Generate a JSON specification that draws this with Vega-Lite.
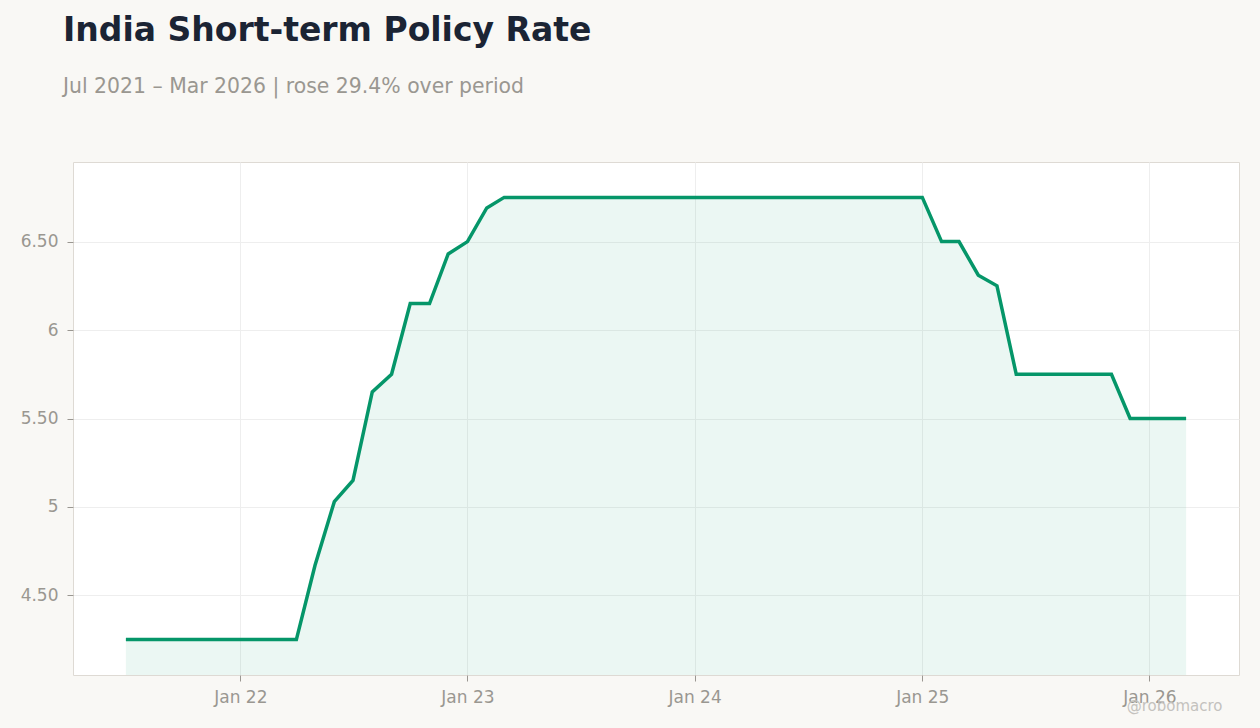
{
  "$schema": "https://vega.github.io/schema/vega-lite/v6.json",
  "width": 1166,
  "height": 513,
  "autosize": {"type": "none"},
  "padding": {"left": 73, "top": 162, "right": 21, "bottom": 53},
  "background": "#f9f8f5",
  "config": {
    "font": "DejaVu Sans",
    "view": {"fill": "#ffffff", "stroke": "#dedad4", "strokeWidth": 1}
  },
  "title": {
    "text": "India Short-term Policy Rate",
    "subtitle": "Jul 2021 – Mar 2026 | rose 29.4% over period",
    "anchor": "start",
    "frame": "group",
    "dx": -10,
    "offset": 65,
    "font": "DejaVu Sans",
    "fontSize": 33,
    "fontWeight": "bold",
    "color": "#1b2434",
    "subtitleFont": "DejaVu Sans",
    "subtitleFontSize": 20.4,
    "subtitleColor": "#9a9791",
    "subtitlePadding": 29
  },
  "data": {
    "values": [
      {"date": "2021-07-01", "rate": 4.25},
      {"date": "2021-08-01", "rate": 4.25},
      {"date": "2021-09-01", "rate": 4.25},
      {"date": "2021-10-01", "rate": 4.25},
      {"date": "2021-11-01", "rate": 4.25},
      {"date": "2021-12-01", "rate": 4.25},
      {"date": "2022-01-01", "rate": 4.25},
      {"date": "2022-02-01", "rate": 4.25},
      {"date": "2022-03-01", "rate": 4.25},
      {"date": "2022-04-01", "rate": 4.25},
      {"date": "2022-05-01", "rate": 4.67},
      {"date": "2022-06-01", "rate": 5.03},
      {"date": "2022-07-01", "rate": 5.15},
      {"date": "2022-08-01", "rate": 5.65},
      {"date": "2022-09-01", "rate": 5.75},
      {"date": "2022-10-01", "rate": 6.15},
      {"date": "2022-11-01", "rate": 6.15},
      {"date": "2022-12-01", "rate": 6.43},
      {"date": "2023-01-01", "rate": 6.5},
      {"date": "2023-02-01", "rate": 6.69},
      {"date": "2023-03-01", "rate": 6.75},
      {"date": "2023-04-01", "rate": 6.75},
      {"date": "2023-05-01", "rate": 6.75},
      {"date": "2023-06-01", "rate": 6.75},
      {"date": "2023-07-01", "rate": 6.75},
      {"date": "2023-08-01", "rate": 6.75},
      {"date": "2023-09-01", "rate": 6.75},
      {"date": "2023-10-01", "rate": 6.75},
      {"date": "2023-11-01", "rate": 6.75},
      {"date": "2023-12-01", "rate": 6.75},
      {"date": "2024-01-01", "rate": 6.75},
      {"date": "2024-02-01", "rate": 6.75},
      {"date": "2024-03-01", "rate": 6.75},
      {"date": "2024-04-01", "rate": 6.75},
      {"date": "2024-05-01", "rate": 6.75},
      {"date": "2024-06-01", "rate": 6.75},
      {"date": "2024-07-01", "rate": 6.75},
      {"date": "2024-08-01", "rate": 6.75},
      {"date": "2024-09-01", "rate": 6.75},
      {"date": "2024-10-01", "rate": 6.75},
      {"date": "2024-11-01", "rate": 6.75},
      {"date": "2024-12-01", "rate": 6.75},
      {"date": "2025-01-01", "rate": 6.75},
      {"date": "2025-02-01", "rate": 6.5},
      {"date": "2025-03-01", "rate": 6.5},
      {"date": "2025-04-01", "rate": 6.31},
      {"date": "2025-05-01", "rate": 6.25},
      {"date": "2025-06-01", "rate": 5.75},
      {"date": "2025-07-01", "rate": 5.75},
      {"date": "2025-08-01", "rate": 5.75},
      {"date": "2025-09-01", "rate": 5.75},
      {"date": "2025-10-01", "rate": 5.75},
      {"date": "2025-11-01", "rate": 5.75},
      {"date": "2025-12-01", "rate": 5.5},
      {"date": "2026-01-01", "rate": 5.5},
      {"date": "2026-02-01", "rate": 5.5},
      {"date": "2026-03-01", "rate": 5.5}
    ]
  },
  "encoding": {
    "x": {
      "field": "date",
      "type": "temporal",
      "scale": {
        "domain": [
          {"year": 2021, "month": 4, "date": 7},
          {"year": 2026, "month": 5, "date": 25}
        ],
        "nice": false
      },
      "axis": {
        "format": "%b %y",
        "tickCount": {"interval": "year", "step": 1},
        "labelFontSize": 17,
        "labelColor": "#9a9791",
        "labelPadding": 8,
        "tickColor": "#9a9791",
        "tickSize": 6,
        "domain": false,
        "gridColor": "#eeeeee",
        "title": "@robomacro",
        "titleFontSize": 15,
        "titleFontWeight": "normal",
        "titleColor": "#c4c2be",
        "titleAnchor": "end",
        "titleAlign": "right",
        "titleBaseline": "middle",
        "titleX": 1149,
        "titleY": 30
      }
    },
    "y": {
      "field": "rate",
      "type": "quantitative",
      "scale": {"domain": [4.05, 6.95], "nice": false, "zero": false},
      "axis": {
        "values": [4.5, 5, 5.5, 6, 6.5],
        "labelExpr": "datum.value % 1 === 0 ? format(datum.value, 'd') : format(datum.value, '.2f')",
        "labelFontSize": 17,
        "labelColor": "#9a9791",
        "labelPadding": 9,
        "tickColor": "#9a9791",
        "tickSize": 6,
        "domain": false,
        "gridColor": "#eeeeee",
        "title": null
      }
    }
  },
  "layer": [
    {
      "mark": {"type": "area", "color": "#059669", "opacity": 0.08},
      "encoding": {"y2": {"datum": 4.05}}
    },
    {
      "mark": {"type": "line", "color": "#059669", "strokeWidth": 3.5}
    }
  ]
}
